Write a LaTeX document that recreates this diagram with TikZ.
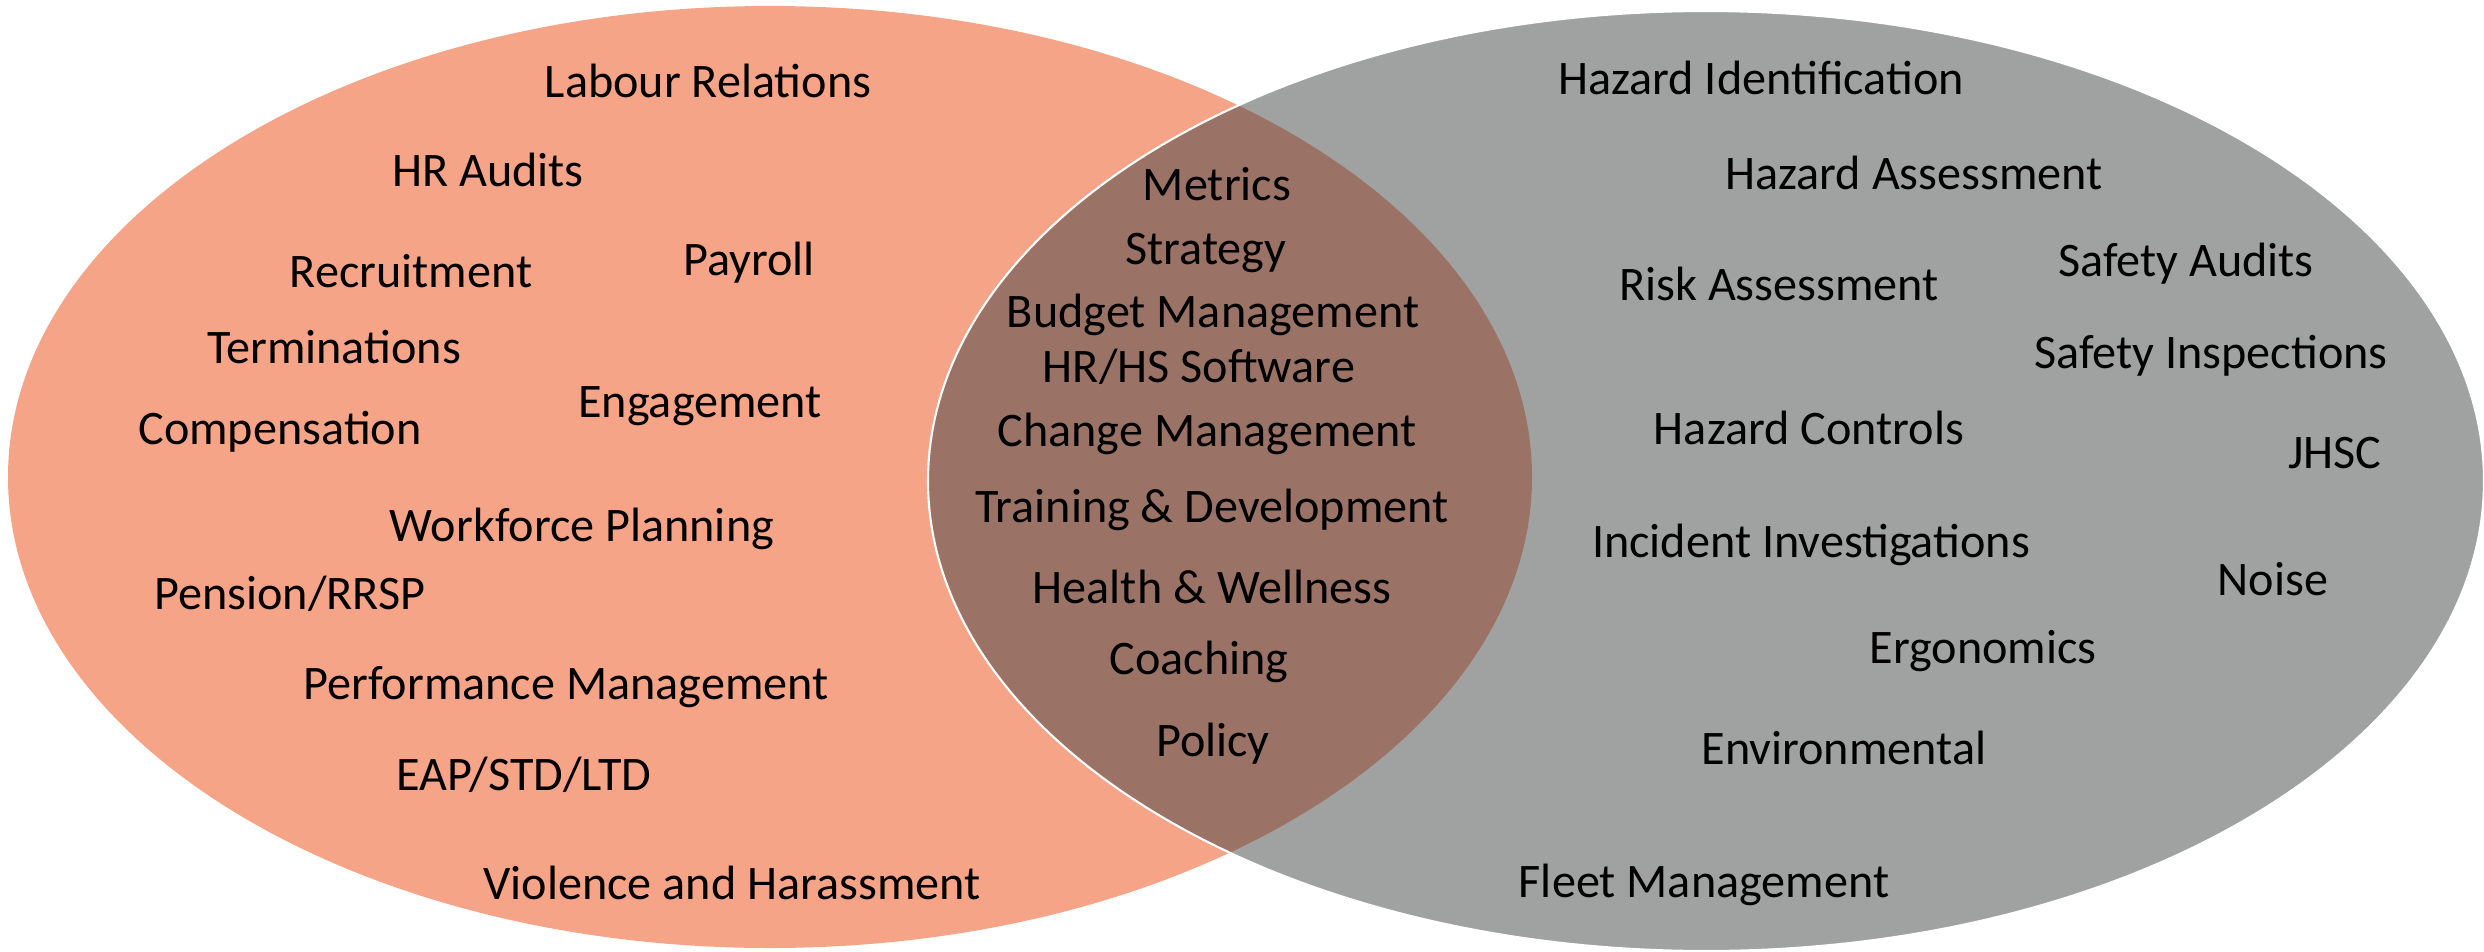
\documentclass[tikz,border=0pt]{standalone}
\usepackage{fontspec}
\setmainfont{Carlito}
\definecolor{hrfill}{HTML}{F5A488}
\definecolor{hsfill}{HTML}{A0A2A1}
\definecolor{bothfill}{HTML}{9A7366}
\begin{document}
\begin{tikzpicture}[x=0.01cm,y=-0.01cm,
  item/.style={anchor=base,inner sep=0pt,font=\fontsize{13.7}{16}\selectfont,text=black}]
\useasboundingbox (0,0) rectangle (2484,951);
% the two sets
\fill[hrfill] (770,477) ellipse [x radius=762,y radius=471];
\fill[hsfill] (1706,481) ellipse [x radius=778,y radius=470];
% their overlap
\begin{scope}
  \clip (770,477) ellipse [x radius=762,y radius=471];
  \fill[bothfill] (1706,481) ellipse [x radius=778,y radius=470];
\end{scope}
\draw[white,line width=0.6pt] (1706,481) ellipse [x radius=778,y radius=470];

% HR only
\node[item] (lr)  at (708,97)  {Labour Relations};
\node[item] (hra) at (488,186) {HR Audits};
\node[item] (rec) at (411,287) {Recruitment};
\node[item] (pay) at (749,275) {Payroll};
\node[item] (ter) at (334,363) {Terminations};
\node[item] (eng) at (700,417) {Engagement};
\node[item] (com) at (280,444) {Compensation};
\node[item] (wfp) at (582,541) {Workforce Planning};
\node[item] (pen) at (290,609) {Pension/RRSP};
\node[item] (pm)  at (566,699) {Performance Management};
\node[item] (eap) at (524,790) {EAP/STD/LTD};
\node[item] (vh)  at (732,899) {Violence and Harassment};

% shared by HR and HS
\node[item] (met) at (1217,200) {Metrics};
\node[item] (str) at (1206,264) {Strategy};
\node[item] (bud) at (1213,327) {Budget Management};
\node[item] (sw)  at (1199,382) {HR/HS Software};
\node[item] (chg) at (1207,446) {Change Management};
\node[item] (trn) at (1212,522) {Training \& Development};
\node[item] (hw)  at (1212,603) {Health \& Wellness};
\node[item] (coa) at (1199,674) {Coaching};
\node[item] (pol) at (1213,756) {Policy};

% HS only
\node[item] (hid) at (1761,94)  {Hazard Identification};
\node[item] (has) at (1914,189) {Hazard Assessment};
\node[item] (ra)  at (1779,300) {Risk Assessment};
\node[item] (sa)  at (2186,276) {Safety Audits};
\node[item] (si)  at (2211,368) {Safety Inspections};
\node[item] (hc)  at (1809,444) {Hazard Controls};
\node[item] (jh)  at (2335,468) {JHSC};
\node[item] (ii)  at (1811,557) {Incident Investigations};
\node[item] (noi) at (2273,595) {Noise};
\node[item] (erg) at (1983,663) {Ergonomics};
\node[item] (env) at (1844,764) {Environmental};
\node[item] (fm)  at (1704,897) {Fleet Management};
\end{tikzpicture}
\end{document}
